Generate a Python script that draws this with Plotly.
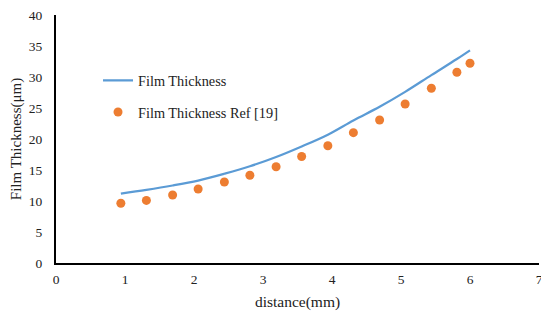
import plotly.graph_objects as go

distance = [0.94, 1.31, 1.69, 2.06, 2.44, 2.81, 3.19, 3.56, 3.94, 4.31, 4.69, 5.06, 5.44, 5.81, 6.0]
film_thickness = [11.2, 11.8, 12.5, 13.3, 14.4, 15.6, 17.1, 18.8, 20.7, 23.0, 25.2, 27.6, 30.3, 32.9, 34.3]
film_thickness_ref = [9.63, 10.1, 10.97, 11.94, 13.06, 14.15, 15.53, 17.18, 18.92, 21.02, 23.06, 25.65, 28.18, 30.76, 32.21]

x_ticks = [0, 1, 2, 3, 4, 5, 6, 7]
y_ticks = [0, 5, 10, 15, 20, 25, 30, 35, 40]

font = "Liberation Serif, Times New Roman, serif"

fig = go.Figure()
fig.add_trace(go.Scatter(
    x=distance, y=film_thickness, mode="lines", name="Film Thickness",
    line=dict(color="#5B9BD5", width=2.25, shape="spline"), legendgroup="a"))
fig.add_trace(go.Scatter(
    x=distance, y=film_thickness_ref, mode="markers", name="Film Thickness Ref [19]",
    marker=dict(color="#ED7D31", size=9), legendgroup="b"))

fig.update_layout(
    width=541, height=311,
    margin=dict(l=56, r=2, t=15, b=48),
    paper_bgcolor="white", plot_bgcolor="white",
    font=dict(family=font, size=13, color="#222"),
    legend=dict(x=0.087, y=0.80, xanchor="left", yanchor="top",
                bgcolor="rgba(0,0,0,0)", font=dict(family=font, size=14.3, color="#222"),
                tracegroupgap=10),
    xaxis=dict(range=[0, 7], tickvals=x_ticks, showgrid=False, zeroline=False,
               showline=True, linecolor="black", linewidth=2, ticks="", automargin=False,
               ticklabelstandoff=3, ticklabeloverflow="allow",
               title=dict(text="distance(mm)", font=dict(family=font, size=15.5), standoff=10),
               tickfont=dict(family=font, size=13.5)),
    yaxis=dict(range=[0, 40], tickvals=y_ticks, showgrid=False, zeroline=False,
               showline=True, linecolor="black", linewidth=2, ticks="", automargin=False,
               ticklabelstandoff=9, ticklabeloverflow="allow",
               title=dict(text="Film Thickness(μm)", font=dict(family=font, size=15), standoff=4),
               tickfont=dict(family=font, size=13.5)),
)

fig.write_html("out.html", config={"displayModeBar": False},
               post_script="document.body.style.margin='0';")
